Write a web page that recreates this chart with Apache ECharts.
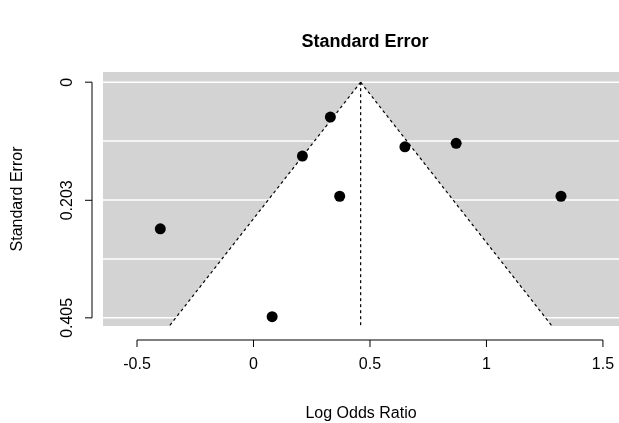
<!DOCTYPE html>
<html><head><meta charset="utf-8">
<script src="https://cdn.jsdelivr.net/npm/echarts@6/dist/echarts.min.js"></script>
<style>html,body{margin:0;padding:0;background:#fff}#c{width:619px;height:423px}</style>
</head><body><div id="c"></div>
<script>
// study estimates: [log odds ratio, standard error]
var logOR = [0.33, 0.21, 0.37, 0.65, 0.87, 1.32, -0.40, 0.08];
var stdErr = [0.060, 0.127, 0.196, 0.111, 0.105, 0.196, 0.252, 0.403];
var pooled = 0.46;
var seTicks = [0, 0.203, 0.405];
var seGrid = [0, 0.10125, 0.2025, 0.30375, 0.405];
var xTicks = [-0.5, 0, 0.5, 1, 1.5];
var seMin = -0.0175, seMax = 0.419;
var xMin = -0.646, xMax = 1.569;

var pts = logOR.map(function(v,i){ return [v, stdErr[i]]; });

var myChart = echarts.init(document.getElementById('c'));
var font = 'Liberation Sans, Arial, sans-serif';

function funnel(params, api){
    var apex = api.coord([pooled, 0]);
    var l = api.coord([pooled - 1.96*seMax, seMax]);
    var r = api.coord([pooled + 1.96*seMax, seMax]);
    var bot = api.coord([pooled, seMax]);
    var kids = [];
    seGrid.forEach(function(s){
        var a = api.coord([xMin, s]), b = api.coord([xMax, s]);
        kids.push({type:'line', shape:{x1:a[0],y1:a[1],x2:b[0],y2:b[1]}, style:{stroke:'#fff', lineWidth:1.5}});
    });
    kids.push({type:'polygon', shape:{points:[apex,l,r]}, style:{fill:'#fff'}});
    var dash = {stroke:'#000', lineWidth:1.2, lineDash:[3,3]};
    kids.push({type:'line', shape:{x1:apex[0],y1:apex[1],x2:l[0],y2:l[1]}, style:dash});
    kids.push({type:'line', shape:{x1:apex[0],y1:apex[1],x2:r[0],y2:r[1]}, style:dash});
    kids.push({type:'line', shape:{x1:apex[0],y1:apex[1],x2:bot[0],y2:bot[1]}, style:dash});
    return {type:'group', children:kids};
}

function axes(params, api){
    var kids = [];
    var st = {stroke:'#000', lineWidth:1};
    var ax0 = api.coord([xMin, seTicks[0]]), ax1 = api.coord([xMin, seTicks[2]]);
    var x = ax0[0] - 11;
    kids.push({type:'line', shape:{x1:x,y1:ax0[1],x2:x,y2:ax1[1]}, style:st});
    seTicks.forEach(function(s){
        var p = api.coord([xMin, s]);
        kids.push({type:'line', shape:{x1:x,y1:p[1],x2:x-7,y2:p[1]}, style:st});
    });
    var bx0 = api.coord([xTicks[0], seMax]), bx1 = api.coord([xTicks[xTicks.length-1], seMax]);
    var y = bx0[1] + 14;
    kids.push({type:'line', shape:{x1:bx0[0],y1:y,x2:bx1[0],y2:y}, style:st});
    xTicks.forEach(function(v){
        var p = api.coord([v, seMax]);
        kids.push({type:'line', shape:{x1:p[0],y1:y,x2:p[0],y2:y+7}, style:st});
    });
    return {type:'group', children:kids};
}

myChart.setOption({
    animation:false,
    title:{text:'Standard Error', left:360, top:28, textAlign:'center',
        textStyle:{fontFamily:font, fontSize:18, fontWeight:'bold', color:'#000'}},
    grid:{left:103, right:0, top:72, bottom:97, show:true, backgroundColor:'#d3d3d3', borderWidth:0,
        containLabel:false, outerBoundsMode:'none'},
    xAxis:{type:'value', position:'bottom', min:xMin, max:xMax, splitLine:{show:false},
        axisLine:{show:false, onZero:false}, axisTick:{show:false},
        axisLabel:{customValues:xTicks, margin:31, fontFamily:font, fontSize:16, color:'#000',
            formatter:function(v){ return String(v); }},
        name:'Log Odds Ratio', nameLocation:'middle', nameGap:80,
        nameTextStyle:{fontFamily:font, fontSize:16, color:'#000'}},
    yAxis:{type:'value', inverse:true, min:seMin, max:seMax, splitLine:{show:false},
        axisLine:{show:false}, axisTick:{show:false},
        axisLabel:{customValues:seTicks, rotate:90, margin:27, fontFamily:font, fontSize:16, color:'#000',
            formatter:function(v){ return String(v); }},
        name:'Standard Error', nameLocation:'middle', nameGap:77,
        nameTextStyle:{fontFamily:font, fontSize:16, color:'#000'}},
    series:[
        {type:'custom', renderItem:funnel, data:[[0,0]], silent:true, z:1},
        {type:'custom', renderItem:axes, data:[[0,0]], silent:true, clip:false, z:1},
        {type:'scatter', data:pts, symbolSize:11, itemStyle:{color:'#000', opacity:1}, z:5}
    ]
});
</script></body></html>
